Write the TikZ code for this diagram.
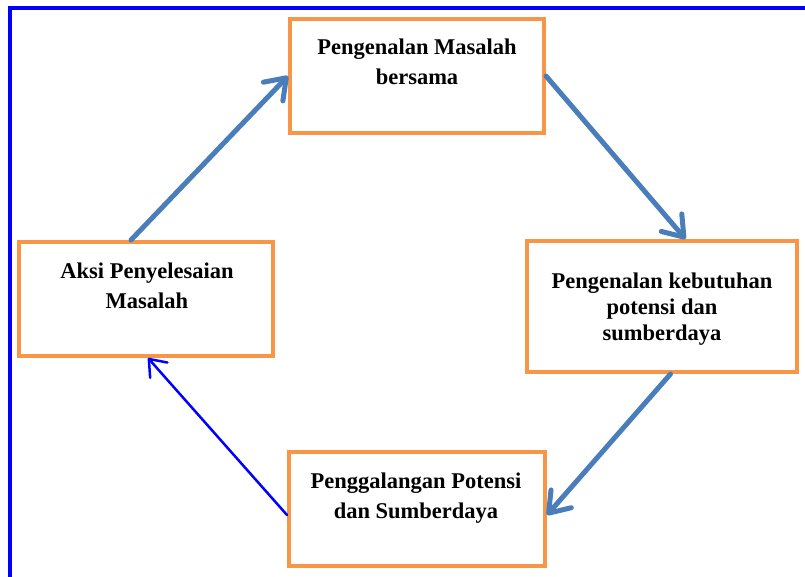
\documentclass[tikz,border=0pt]{standalone}
\usepackage{fontspec}
\setmainfont{Liberation Serif}
\usetikzlibrary{arrows.meta,calc}
\definecolor{boxorange}{HTML}{F79646}
\definecolor{steel}{HTML}{4A7EBB}
\definecolor{pureblue}{HTML}{0000FF}
\tikzset{
  stepbox/.style={draw=boxorange, line width=4pt, minimum width=#1, inner sep=0pt},
  lbl/.style={align=center, font=\bfseries\fontsize{22.5}{30}\selectfont, inner sep=0pt, anchor=base},
  thickarrow/.style={draw=steel, line width=5pt, line cap=round,
    -{Straight Barb[length=19pt,width=27pt,line cap=round,line join=round]}},
  thinarrow/.style={draw=pureblue, line width=2.5pt, line cap=round,
    -{Straight Barb[length=15pt,width=23pt,line cap=round,line join=round]}},
}
\begin{document}
\begin{tikzpicture}[x=1pt,y=-1pt]
\useasboundingbox (0,0) rectangle (805,577);
% frame
\draw[pureblue, line width=4pt] (10,580) -- (10,8) -- (808,8);
% boxes
\node[stepbox=254pt, minimum height=114pt] (b1) at (417,76) {};
\node[stepbox=270pt, minimum height=131pt] (b2) at (661.5,306.5) {};
\node[stepbox=256pt, minimum height=114pt] (b3) at (417,509) {};
\node[stepbox=254pt, minimum height=114pt] (b4) at (146,299) {};
% texts (anchored at the baseline of the last line)
\node[lbl] (t1) at (417,85) {Pengenalan Masalah\\bersama};
\node[lbl, font=\bfseries\fontsize{22.5}{26}\selectfont] (t2) at (662,340) {Pengenalan kebutuhan\\potensi dan\\sumberdaya};
\node[lbl] (t3) at (416,518) {Penggalangan Potensi\\dan Sumberdaya};
\node[lbl] (t4) at (147,308) {Aksi Penyelesaian\\Masalah};
% connector end points
\coordinate (a1s) at ($(b4.north west)+(114,0)$);
\coordinate (a1e) at ($(b1.north west)+(0,59)$);
\coordinate (a2s) at ($(b1.north east)+(0,59)$);
\coordinate (a2e) at ($(b2.north west)+(161,0)$);
\coordinate (a3s) at ($(b2.south west)+(146,0)$);
\coordinate (a3e) at ($(b3.north east)+(0,65)$);
\coordinate (a4s) at ($(b3.north west)+(0,65)$);
\coordinate (a4e) at ($(b4.south west)+(131,0)$);
% connectors
\draw[thickarrow] (a1s) -- (a1e);
\draw[thickarrow] (a2s) -- (a2e);
\draw[thickarrow] (a3s) -- (a3e);
\draw[thinarrow] (a4s) -- (a4e);
\end{tikzpicture}
\end{document}
